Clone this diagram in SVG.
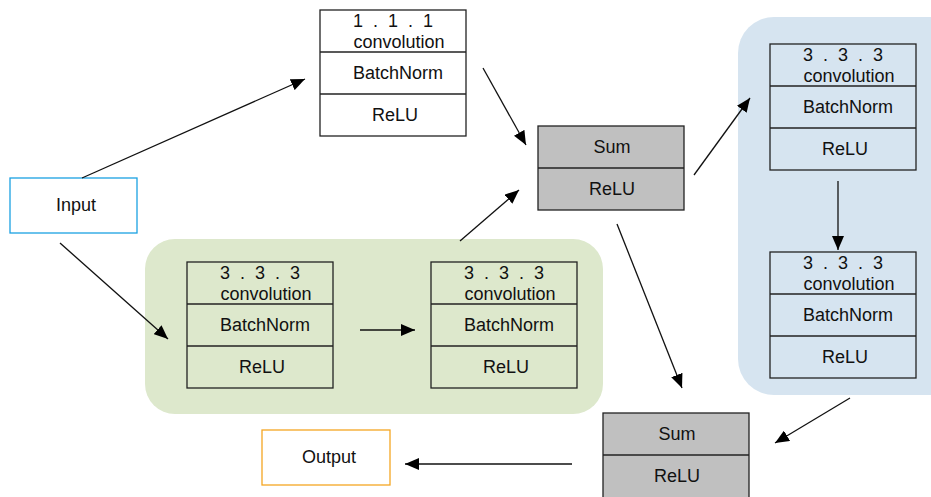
<svg xmlns="http://www.w3.org/2000/svg" width="931" height="497" viewBox="0 0 931 497">
<defs>
<marker id="ah" viewBox="0 0 14 12" refX="14" refY="6" markerWidth="14" markerHeight="12" markerUnits="userSpaceOnUse" orient="auto">
<path d="M0,0 L14,6 L0,12 z" fill="#000"/>
</marker>
<style>
text{font-family:"Liberation Sans","DejaVu Sans",sans-serif;font-size:18px;fill:#111;text-anchor:middle}
.t{word-spacing:5px}
.blk{fill:#fff;stroke:#222;stroke-width:1.3}
.blu{fill:#d6e4f0;stroke:#222;stroke-width:1.3}
.grn{fill:#dde8cc;stroke:#222;stroke-width:1.3}
.gry{fill:#c0c0c0;stroke:#222;stroke-width:1.3}
.ln{stroke:#222;stroke-width:1.3}
.cn{stroke:#111;stroke-width:1.3;fill:none;marker-end:url(#ah)}
</style>
</defs>
<rect width="931" height="497" fill="#fff"/>
<g id="blue-region"><rect x="738" y="17" width="230" height="378" rx="36" fill="#d6e4f0"/></g>
<g id="green-region"><rect x="145" y="239" width="458" height="175" rx="30" fill="#dde8cc"/></g>

<g id="conv111">
<rect class="blk" x="320" y="10" width="146" height="126"/>
<line class="ln" x1="320" y1="52" x2="466" y2="52"/>
<line class="ln" x1="320" y1="94" x2="466" y2="94"/>
<text class="t" x="393" y="27">1 . 1 . 1</text>
<text x="399" y="48">convolution</text>
<text x="398" y="79">BatchNorm</text>
<text x="395" y="121">ReLU</text>
</g>

<g id="sum1">
<rect class="gry" x="538" y="126" width="146" height="84"/>
<line class="ln" x1="538" y1="168" x2="684" y2="168"/>
<text x="612" y="153">Sum</text>
<text x="612" y="195">ReLU</text>
</g>

<g id="blue-conv1">
<rect class="blu" x="770" y="44" width="146" height="126"/>
<line class="ln" x1="770" y1="86" x2="916" y2="86"/>
<line class="ln" x1="770" y1="128" x2="916" y2="128"/>
<text class="t" x="843" y="61">3 . 3 . 3</text>
<text x="849" y="82">convolution</text>
<text x="848" y="113">BatchNorm</text>
<text x="845" y="155">ReLU</text>
</g>

<g id="blue-conv2">
<rect class="blu" x="770" y="252" width="146" height="126"/>
<line class="ln" x1="770" y1="294" x2="916" y2="294"/>
<line class="ln" x1="770" y1="336" x2="916" y2="336"/>
<text class="t" x="843" y="269">3 . 3 . 3</text>
<text x="849" y="290">convolution</text>
<text x="848" y="321">BatchNorm</text>
<text x="845" y="363">ReLU</text>
</g>

<g id="green-conv1">
<rect class="grn" x="187" y="262" width="146" height="126"/>
<line class="ln" x1="187" y1="304" x2="333" y2="304"/>
<line class="ln" x1="187" y1="346" x2="333" y2="346"/>
<text class="t" x="260" y="279">3 . 3 . 3</text>
<text x="266" y="300">convolution</text>
<text x="265" y="331">BatchNorm</text>
<text x="262" y="373">ReLU</text>
</g>

<g id="green-conv2">
<rect class="grn" x="431" y="262" width="146" height="126"/>
<line class="ln" x1="431" y1="304" x2="577" y2="304"/>
<line class="ln" x1="431" y1="346" x2="577" y2="346"/>
<text class="t" x="504" y="279">3 . 3 . 3</text>
<text x="510" y="300">convolution</text>
<text x="509" y="331">BatchNorm</text>
<text x="506" y="373">ReLU</text>
</g>

<g id="sum2">
<rect class="gry" x="603" y="413" width="146" height="90"/>
<line class="ln" x1="603" y1="455" x2="749" y2="455"/>
<text x="677" y="440">Sum</text>
<text x="677" y="482">ReLU</text>
</g>

<g id="input">
<rect x="10" y="178" width="127" height="55" fill="#fff" stroke="#1ba1e2" stroke-width="1.3"/>
<text x="76" y="211">Input</text>
</g>

<g id="output">
<rect x="262" y="430" width="128" height="55" fill="#fff" stroke="#f5a623" stroke-width="1.3"/>
<text x="329" y="463">Output</text>
</g>

<g id="connectors">
<line class="cn" x1="82" y1="178" x2="305" y2="79"/>
<line class="cn" x1="483" y1="68" x2="526" y2="145"/>
<line class="cn" x1="460" y1="241" x2="519" y2="190"/>
<line class="cn" x1="60" y1="243" x2="168" y2="339"/>
<line class="cn" x1="360" y1="330" x2="415" y2="330"/>
<line class="cn" x1="694" y1="175" x2="750" y2="98"/>
<line class="cn" x1="838" y1="181" x2="838" y2="250"/>
<line class="cn" x1="617" y1="224" x2="682" y2="388"/>
<line class="cn" x1="850" y1="398" x2="775" y2="443"/>
<line class="cn" x1="572" y1="464" x2="405" y2="464"/>
</g>
</svg>
